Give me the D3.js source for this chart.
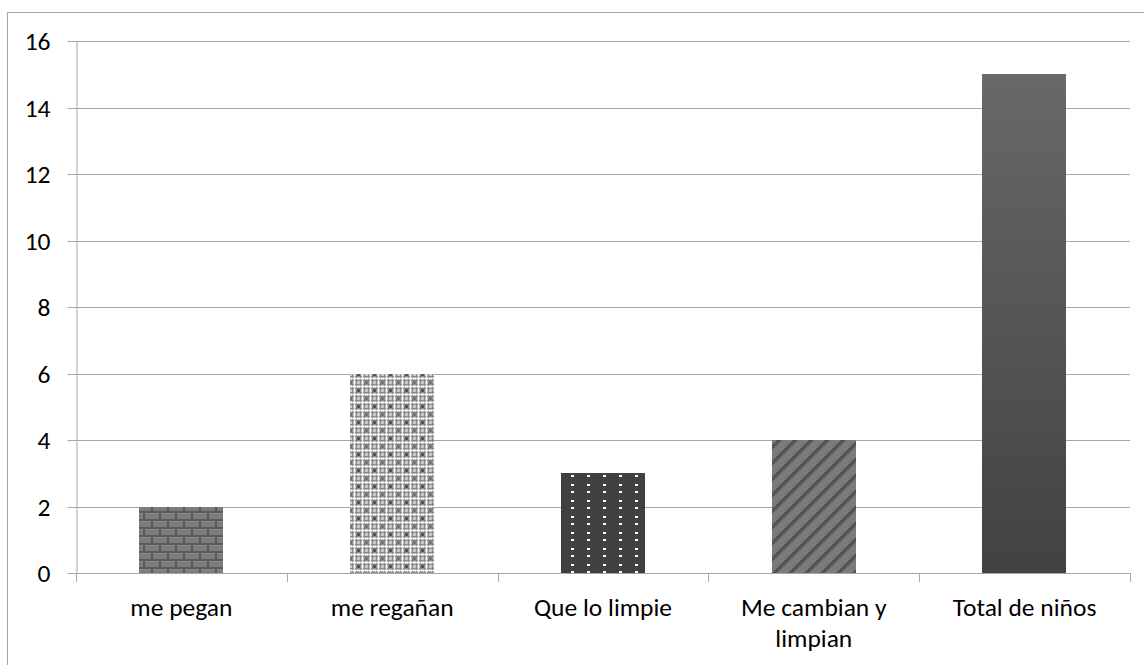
<!DOCTYPE html>
<html><head><meta charset="utf-8">
<script src="https://cdn.jsdelivr.net/npm/d3@7"></script>
<style>body{margin:0;background:#fff}svg{display:block}</style>
</head><body>
<script>
const categories = [["me pegan"], ["me regañan"], ["Que lo limpie"], ["Me cambian y", "limpian"], ["Total de niños"]];
const values = [2, 6, 3, 4, 15];
const yTicks = [0, 2, 4, 6, 8, 10, 12, 14, 16];
const fills = ["url(#brick)", "url(#plaid)", "url(#dots)", "url(#diag)", "url(#grad)"];

(function(){
const W = 1144, H = 665;
const svg = d3.select("body").append("svg").attr("width", W).attr("height", H);
const defs = svg.append("defs");

// brick
let p = defs.append("pattern").attr("id","brick").attr("patternUnits","userSpaceOnUse").attr("width",16).attr("height",16);
p.append("rect").attr("width",16).attr("height",16).attr("fill","#5a5a5a");
[[1,1,14,6],[9,9,14,6],[-7,9,14,6]].forEach(r=>{
  p.append("rect").attr("x",r[0]).attr("y",r[1]).attr("width",r[2]).attr("height",r[3]).attr("fill","#7c7c7c");
  p.append("rect").attr("x",r[0]).attr("y",r[1]).attr("width",r[2]).attr("height",1).attr("fill","#8c8c8c");
});
// plaid
p = defs.append("pattern").attr("id","plaid").attr("patternUnits","userSpaceOnUse").attr("width",16).attr("height",16);
p.append("rect").attr("width",16).attr("height",16).attr("fill","#c8c8c8");
[0,4,8,12].forEach(v=>{
  p.append("rect").attr("x",v).attr("y",0).attr("width",1).attr("height",16).attr("fill","#8a8a8a");
  p.append("rect").attr("x",0).attr("y",v).attr("width",16).attr("height",1).attr("fill","#8a8a8a");
});
[2,10].forEach(v=>{
  p.append("rect").attr("x",v).attr("y",0).attr("width",1).attr("height",16).attr("fill","#f4f4f4");
  p.append("rect").attr("x",0).attr("y",v).attr("width",16).attr("height",1).attr("fill","#f4f4f4");
});
p.append("rect").attr("x",5).attr("y",5).attr("width",3).attr("height",3).attr("fill","#555");
p.append("rect").attr("x",13).attr("y",13).attr("width",3).attr("height",3).attr("fill","#777");
// dots
p = defs.append("pattern").attr("id","dots").attr("patternUnits","userSpaceOnUse").attr("width",16).attr("height",16);
p.append("rect").attr("width",16).attr("height",16).attr("fill","#404040");
p.append("rect").attr("x",11).attr("y",4).attr("width",3).attr("height",2).attr("fill","#fff");
p.append("rect").attr("x",11).attr("y",11).attr("width",3).attr("height",2).attr("fill","#fff");
// diag
p = defs.append("pattern").attr("id","diag").attr("patternUnits","userSpaceOnUse").attr("width",16).attr("height",16);
p.append("rect").attr("width",16).attr("height",16).attr("fill","#7a7a7a");
for (let i=0;i<16;i+=2){
  p.append("rect").attr("x",(16-i+16)%16).attr("y",i).attr("width",5).attr("height",2).attr("fill","#555");
  p.append("rect").attr("x",(16-i+16)%16-16).attr("y",i).attr("width",5).attr("height",2).attr("fill","#555");
}
// gradient
const g = defs.append("linearGradient").attr("id","grad").attr("x1",0).attr("y1",0).attr("x2",0).attr("y2",1);
g.append("stop").attr("offset","0%").attr("stop-color","#686868");
g.append("stop").attr("offset","100%").attr("stop-color","#424242");

// outer border
svg.append("path").attr("d",`M7.5,${H} V12.5 H${W}`).attr("fill","none").attr("stroke","#a6a6a6").attr("stroke-width",1);

const pl = 76, pr = 1130, pt = 41, pb = 573;
const x = d3.scaleBand().domain(d3.range(values.length)).range([pl, pr]).paddingInner(0).paddingOuter(0);
const y = d3.scaleLinear().domain([0, 16]).range([pb, pt]);

// grid
svg.append("g").selectAll("line").data(yTicks.filter(d=>d>0)).join("line")
  .attr("x1", pl).attr("x2", pr).attr("y1", d=>Math.round(y(d))+0.5).attr("y2", d=>Math.round(y(d))+0.5)
  .attr("stroke","#a6a6a6").attr("stroke-width",1);

// bars
const bw = x.bandwidth()*0.4;
svg.append("g").selectAll("rect").data(values).join("rect")
  .attr("x",(d,i)=>Math.round(x(i)+x.bandwidth()/2-bw/2))
  .attr("width",Math.round(bw))
  .attr("y",d=>Math.round(y(d)))
  .attr("height",d=>Math.round(y(0))-Math.round(y(d)))
  .attr("fill",(d,i)=>fills[i]);

const font = "'Carlito','Open Sans','Noto Sans',sans-serif";
const fs = 25.5;
// y axis
const ya = d3.axisLeft(y).tickValues(yTicks).tickSize(9).tickPadding(17).tickSizeOuter(0);
const yg = svg.append("g").attr("transform",`translate(${pl+0.5},0)`).call(ya);
yg.selectAll(".tick").attr("transform",d=>`translate(0,${Math.round(y(d))+0.5})`);
yg.selectAll("text").attr("font-family",font).attr("font-size",fs).attr("fill","#000").attr("dy","0.33em");
yg.select(".domain").attr("stroke","#a6a6a6");
yg.selectAll(".tick line").attr("stroke","#a6a6a6");

// x axis line and ticks
const xa = svg.append("g");
xa.append("line").attr("x1",pl).attr("x2",pr).attr("y1",pb+0.5).attr("y2",pb+0.5).attr("stroke","#a6a6a6");
const bounds = d3.range(values.length+1).map(i=> i<values.length ? x(i) : pr);
xa.selectAll(".tk").data(bounds).join("line").attr("class","tk")
  .attr("x1",d=>Math.round(d)+0.5).attr("x2",d=>Math.round(d)+0.5).attr("y1",pb).attr("y2",pb+9)
  .attr("stroke","#a6a6a6");

const lab = svg.append("g").selectAll("text").data(categories).join("text")
  .attr("x",(d,i)=>x(i)+x.bandwidth()/2).attr("y",616)
  .attr("text-anchor","middle").attr("font-family",font).attr("font-size",fs).attr("fill","#000");
lab.each(function(d){
  const t = d3.select(this);
  d.forEach((s,j)=>t.append("tspan").attr("x",t.attr("x")).attr("dy", j===0?0:31).text(s));
});
})();
</script>
</body></html>
